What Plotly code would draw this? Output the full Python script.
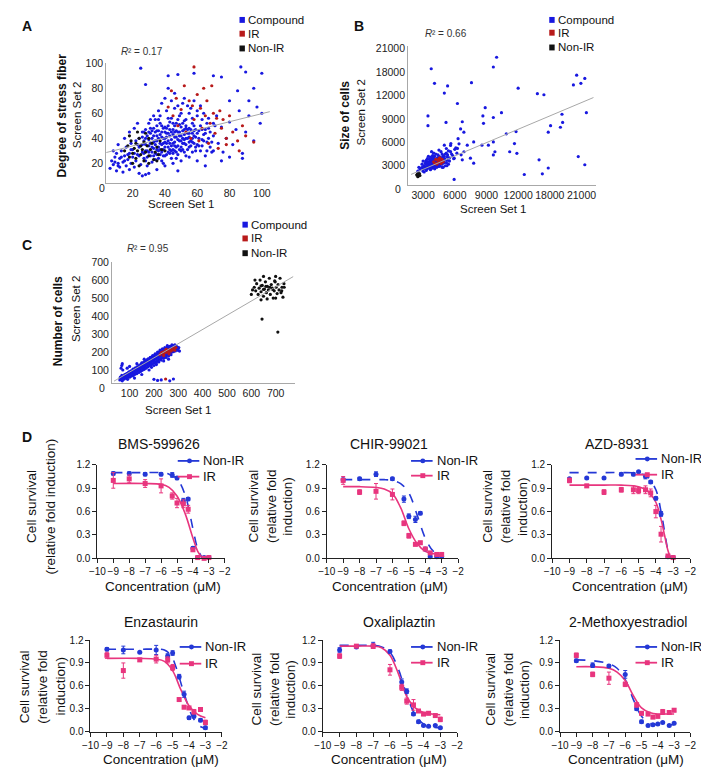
import plotly.graph_objects as go

W, H = 709, 767
def X(p): return p / W
def Y(p): return 1 - p / H

FONT = "Liberation Sans, Arial, sans-serif"

C_BLUE = "#1818e0"; C_RED = "#b81a1a"; C_BLACK = "#111111"
D_BLUE = "#2438d6"; D_PINK = "#e8357e"; GREY_LINE = "#a8a8a8"

# ---------------- Panel A: degree of stress fiber ----------------
A_COMPOUND = [(6,16),(7,22),(8,19),(9,25),(10,14),(10,28),(11,20),(12,17),(12,24),(13,30),(14,13),(14,21),(15,26),(16,18),(16,33),(17,23),(18,15),(18,28),(19,20),(19,36),(20,25),(20,31),(21,17),(22,22),(22,38),(23,27),(24,12),(24,33),(25,19),(26,29),
(26,41),(27,24),(28,35),(28,47),(29,18),(29,30),(30,39),(30,52),(31,26),(31,44),(32,21),(32,33),(33,48),(33,37),(34,28),(34,55),(35,42),(35,31),(36,24),(36,46),(37,36),(37,58),(38,29),(38,50),(39,40),(39,20),(40,33),(40,45),(41,27),(41,62),(42,38),(42,50),(43,31),(43,42),(44,24),(44,56),(45,36),(45,47),(46,30),(46,64),(47,41),(47,52),(48,34),(48,27),(49,45),(49,58),(50,38),(50,49),(51,31),(51,68),(52,43),(52,36),(53,55),(53,26),(54,40),(54,47),(55,33),(55,60),(56,38),(57,44),(57,29),(58,50),(58,36),(59,41),(60,35),(60,62),(61,46),(62,30),(63,39),(63,55),(64,43),(65,26),(66,37),(67,48),(68,33),(70,42),(72,58),(73,36),(75,49),(76,29),(78,40),(80,53),(82,35),(84,47),(86,62),(88,24),(90,45),(92,58),(95,38),(97,65),(99,52),
(33,26),(35,38),(37,43),(38,35),(40,40),(41,36),(42,44),(43,28),(44,39),(45,43),(46,37),(47,33),(48,45),(49,38),(50,42),(51,46),(52,39),(53,35),(54,44),(55,41),(56,47),(57,37),(58,42),(36,33),(39,48),(34,45),(32,40),(30,34),(28,30),(27,38),(25,34),(24,40),(31,55),(36,62),(38,68),(40,72),(42,80),(44,70),(46,76),(48,66),(50,60),(52,72),(54,66),(56,64),(58,70),(60,58),(62,66),(64,60),(66,52),
(25,96),(28,83),(42,90),(48,91),(58,92),(70,90),(75,89),(87,97),(90,93),(100,92),(85,78),(95,80),(80,70),(92,70),(100,60),
(26,10),(28,11),(35,15),(40,18),(45,20),(50,22),(55,25),(60,22),(65,18),(70,30),(75,22),(80,25),(88,28),(48,14),(30,12),
(8,30),(11,35),(15,40),(18,45),(21,48),(23,52),(39,31),(41,44),(43,36),(46,41),(49,31),(51,40),(53,48),(55,37),(57,52),(59,33),(61,40),(63,47),(65,44),(67,40),(69,37),(71,50),(37,27),(35,50),(33,58),(29,42),(27,45),(45,28),(47,24),(52,29),
(26,35),(27,28),(28,40),(29,25),(30,45),(31,36),(32,29),(33,42),(34,35),(35,27),(36,40),(37,31),(38,45),(39,36),(40,26),(41,48),(42,33),(43,47),(44,34),(45,52),(46,45),(47,29),(48,39),(49,51),(50,33),(51,52),(52,47),(53,40),(54,31),(55,48),(56,34),(57,56),(58,46),(59,30),(60,44),(61,34),(62,50),(63,34),(64,38),(65,47),(66,30),(67,56),(68,45),(69,29),(70,52),(31,48),(33,32),(35,46),(37,52),(39,26),(41,41),(43,53),(45,31),(47,46),(49,42),(51,36),(53,50),(55,44),(57,40),(59,47),(34,38),(36,30),(38,41),(40,49),(42,29),(44,45),(46,34),(48,55),(50,30),(52,54),(28,22),(30,29),(32,46),(34,23),(36,55),(38,22),(40,37),(42,56),(44,30),(46,50),(21,28),(23,35),(19,31),(17,27),(15,22),(13,25),(11,18),(9,21),(24,26),(26,45)]
A_IR = [(44,78),(47,72),(50,63),(52,82),(55,70),(57,66),(58,55),(60,75),(62,64),(63,48),(65,58),(66,70),(68,52),(70,60),(71,44),(72,56),(74,62),(75,48),(76,55),(78,40),(80,58),(82,45),(85,38),(88,50),(90,42),(95,37),(42,65),(45,58),(48,50),(53,45),(56,40),(61,38),(67,36),(73,32),(64,80),(69,82),(58,97),(78,35),(86,30)]
A_NONIR = [(15,30),(17,34),(18,25),(19,38),(20,28),(21,32),(22,36),(22,24),(23,30),(24,40),(25,27),(25,34),(26,31),(27,22),(27,37),(28,29),(29,34),(30,26),(30,40),(31,31),(32,36),(33,23),(34,29),(35,33),(36,27),(37,38),(38,31),(20,20),(24,18),(18,42),(30,20),(35,22),(28,44),(23,45),(40,30)]
A_FIT_X = [3.6, 105]
A_FIT_Y = [28.6, 61.3]
A_XTICKS = [20, 40, 60, 80, 100]
A_YTICKS = [20, 40, 60, 80, 100]

# ---------------- Panel B: size of cells (axis positions; labels 18000/21000 sit at 15000/18000) ----------------
B_COMPOUND = [(3770,15400),(4080,13540),(5320,13210),(5010,12290),(3460,8125),(3460,9375),(6250,10960),(7580,13625),(9650,15625),(9960,16875),(8880,10420),(8660,9375),(10420,9790),(9650,9170),(8720,8420),(5170,8540),(6710,8625),(6550,7700),(6860,7290),(6310,6460),(7790,6040),(8570,5625),(9180,5625),(9650,6040),(9800,4790),(9650,4375),(11200,4790),(10880,7080),(11800,7370),(11650,5830),(11880,4580),(12000,12920),(12580,1875),(13820,12210),(14440,12080),(13980,3750),(14290,1960),(14850,2710),(14850,7290),(15070,8125),(16000,7920),(16210,8540),(16150,9580),(17230,13330),(17540,14580),(17940,13540),(18310,14170),(18460,9790),(17690,4170),(18310,3125),(5940,1250),(4390,3960),(6870,4790),(7480,3960),(7790,3330),(5320,4375),(5630,5830),(5010,5625),(6250,5210),(5940,3960),(6710,3750),(7180,5625),
(3000,2600),(3100,3000),(3200,2800),(3300,3300),(3400,2900),(3500,3500),(3500,3100),(3600,2700),(3600,3800),(3700,3200),(3700,3600),(3800,2900),(3800,4000),(3900,3400),(3900,3100),(4000,3700),(4000,2800),(4100,3300),(4100,4200),(4200,3500),(4200,3000),(4300,3900),(4300,3200),(4400,3600),(4400,4400),(4500,3300),(4500,2900),(4600,3800),(4600,4100),(4700,3500),(4800,4500),(4800,3200),(4900,3900),(5000,4200),(5000,3400),(5200,4600),(5300,3700),(5500,4000),(5600,4800),(5800,4300),(3300,2400),(3700,2500),(4100,2600),(3900,4300),(3400,3900),(2900,3200),(3100,2200),(3600,3400),(4000,3400),(4200,3800),(4350,3450),(3850,3650),(3550,2950),(4450,3050),(4650,3250),(3250,3550),(2700,2500),(2600,2800),(2500,2300),(4900,2800),(5100,3000),(5400,3200),(3800,4800),(4700,4800),(5200,5200),(5600,5600),(6000,5100),(6200,4600),
(3000,3600),(3200,3300),(3400,2600),(3500,4200),(3600,3000),(3800,3300),(3900,2700),(4000,4000),(4100,3700),(4200,4500),(4300,2800),(4400,3100),(4500,4200),(4600,3000),(4700,3900),(4800,2800),(4900,4300),(5000,3700),(5100,4500),(5200,3400),(5300,4100),(5400,4900),(5500,3600),(5700,4500),(5900,3900),(6100,5300),(6400,5800),(6600,4400),(3300,3700),(3700,4100),(2800,2700),(3000,2300),(4500,5000),(4000,4600),(3900,3800),(4250,3650),(4150,2950),(3650,3250),(3450,3350),(4550,3450),(4750,3650),(4850,4100),(5050,3900),(5250,3000),(3350,3050),(3150,2650),(2950,2850),(3750,2800),(4050,3150),(4450,3850)]
B_IR = [(4000,3500),(4200,3800),(4400,3400),(4500,3900),(4600,3600),(4700,3300),(4800,3800),(4400,3700),(4300,3200),(4900,3500),(4100,3300),(4600,4000)]
B_NONIR = [(2400,1800),(2500,1950),(2550,1700),(2600,1850),(2650,2000),(2500,1600),(2700,1750),(2450,1900)]
B_FIT_X = [1860, 19130]
B_FIT_Y = [1890, 11720]
B_TICKPOS = [3000, 6000, 9000, 12000, 15000, 18000]
B_TICKTEXT = ["3000", "6000", "9000", "12000", "18000", "21000"]

# ---------------- Panel C: number of cells ----------------
C_COMPOUND = [(60,45),(62,60),(65,52),(68,70),(70,40),(72,58),(75,65),(78,50),(80,75),(82,62),(85,55),(88,80),(90,68),(92,48),(95,85),(98,72),(100,60),(102,90),(105,78),(108,66),(110,95),(112,82),(115,70),(118,100),(120,88),(122,76),(125,105),(128,92),(130,80),(132,112),(135,98),(138,86),(140,118),(142,105),(145,92),(148,125),(150,110),(152,98),(155,130),(158,116),(160,104),(162,138),(165,122),(168,110),(170,145),(172,130),(175,118),(178,150),(180,136),(182,124),(185,158),(188,142),(190,130),(192,165),(195,150),(198,138),(200,172),(202,158),(205,145),(208,178),(210,164),(212,152),(215,185),(218,170),(220,158),(222,192),(225,176),(228,164),(230,198),(232,182),(235,170),(238,205),(240,188),(242,176),(245,210),(248,194),(250,182),(252,215),(255,200),(258,188),(260,222),(262,205),(265,192),(268,228),(270,210),(272,198),(275,232),(278,215),(280,202),(282,236),(285,218),(288,206),(290,225),(295,212),(300,220),(305,205),
(65,110),(68,125),(70,135),(72,100),(200,48),(215,42),(230,45),(265,40),(280,50),(120,55),(150,75),(180,100),(210,130),(240,150),(260,160),(100,120),(130,135),(160,160),(90,110),
(150,140),(165,140),(175,160),(185,170),(195,180),(205,190),(215,200),(225,210),(235,218),(245,225),(255,235),(190,115),(200,125),(210,140),(220,145),(230,155),(240,165),(250,170),(260,178),(270,185),
(85,70),(95,62),(105,88),(115,92),(125,85),(135,110),(145,120),(155,108),(165,150),(175,135),(185,145),(195,160),(205,168),(215,175),(225,190),(235,195),(245,198),(255,212),(265,222),(275,205),
(70,55),(74,48),(78,62),(82,72),(86,64),(90,80),(94,70),(98,90),(102,72),(106,95),(110,80),(114,105),(118,88),(122,110),(126,96),(130,118),(134,104),(138,125),(142,112),(146,132),(150,120),(154,140),(158,126),(162,148),(166,132),(170,155),(174,140),(178,162),(182,148),(186,168),(190,155),(194,175),(198,162),(202,182),(206,168),(210,188),(214,175),(218,195),(222,182),(226,200),(230,188),(234,208),(238,195),(242,215),(246,202),(250,220),(254,208),(258,228),(262,215),(266,232),(270,220),(274,240),(278,225),(282,230),(286,240),(290,215),(294,230),(298,210),(302,225)]
C_IR = [(225,185),(230,195),(235,200),(240,190),(245,205),(250,198),(255,210),(260,200),(265,215),(270,205),(275,212),(280,220),(285,210),(290,225),(248,50),(240,180),(250,215),(262,190)]
C_NONIR = [(612,560),(618,540),(622,580),(628,520),(632,555),(636,600),(640,535),(645,570),(650,510),(654,550),(658,590),(662,530),(666,565),(670,545),(674,610),(678,520),(682,575),(686,555),(690,500),(694,540),(698,590),(702,560),(706,525),(710,575),(714,545),(718,610),(722,530),(726,560),(730,505),(734,580),(640,490),(665,495),(700,500),(605,545),(600,520),(615,600),(650,620),(700,620),(725,540),(735,560),(644,383),(709,311),(660,565),(676,560),(688,548),(650,548),(640,568),(696,595)]
C_FIT_X = [36, 772]
C_FIT_Y = [38, 619]
C_TICKS = [100, 200, 300, 400, 500, 600, 700]

R2_TEXT = ["0.17", "0.66", "0.95"]

# ---------------- Panel D: dose-response ----------------
DOSE = [-9, -8, -7, -6, -5.3, -5, -4.6, -4.3, -4, -3.7, -3.3, -3]
D_XTICKS = [-10, -9, -8, -7, -6, -5, -4, -3, -2]
D_YTICKS = [0.0, 0.3, 0.6, 0.9, 1.2]

BMS_NON = [1.09,1.09,1.08,1.08,1.07,1.03,0.74,0.76,0.13,0.01,0.01,0.01]
BMS_NON_ERR = [0.02,0.02,0.02,0.02,0.03,0.02,0.03,0.02,0.02,0.01,0.01,0.01]
BMS_IR = [1.00,1.02,0.96,0.93,0.80,0.71,0.70,0.63,0.11,0.01,0.00,0.01]
BMS_IR_ERR = [0.10,0.05,0.05,0.09,0.04,0.06,0.05,0.05,0.02,0.01,0.01,0.01]
BMS_FIT_X = [-9,-7,-6,-5.5,-5,-4.5,-4,-3.7,-3.4]
BMS_FIT_NON = [1.10,1.10,1.10,1.08,1.02,0.82,0.38,0.12,0.0]
BMS_FIT_IR = [0.96,0.96,0.95,0.91,0.80,0.58,0.26,0.09,0.0]

CHIR_NON = [1.01,1.02,1.08,1.02,0.76,0.54,0.50,0.58,0.12,0.02,0.02,0.02]
CHIR_NON_ERR = [0.02,0.02,0.03,0.02,0.04,0.03,0.04,0.02,0.02,0.01,0.01,0.01]
CHIR_IR = [1.00,0.85,0.86,0.82,0.45,0.29,0.18,0.20,0.12,0.07,0.05,0.05]
CHIR_IR_ERR = [0.05,0.03,0.10,0.07,0.03,0.03,0.02,0.02,0.02,0.01,0.01,0.02]
CHIR_FIT_X = [-9,-8,-7,-6.5,-6,-5.5,-5,-4.5,-4,-3.5,-3]
CHIR_FIT_NON = [1.01,1.01,1.01,1.01,1.00,0.96,0.84,0.56,0.26,0.09,0.04]
CHIR_FIT_IR = [0.92,0.92,0.91,0.89,0.83,0.65,0.38,0.19,0.09,0.06,0.05]

AZD_NON = [1.02,1.03,1.03,1.08,1.08,1.11,1.05,0.98,0.77,0.57,0.02,0.01]
AZD_NON_ERR = [0.01,0.01,0.01,0.02,0.02,0.01,0.03,0.02,0.02,0.03,0.01,0.01]
AZD_IR = [1.00,0.93,0.85,0.88,0.88,0.87,0.88,0.84,0.60,0.31,0.03,0.01]
AZD_IR_ERR = [0.03,0.02,0.03,0.03,0.05,0.04,0.05,0.05,0.08,0.10,0.02,0.01]
AZD_FIT_X = [-9,-7,-6,-5,-4.5,-4,-3.7,-3.5,-3.3,-3.15]
AZD_FIT_NON = [1.10,1.10,1.10,1.09,1.05,0.88,0.60,0.35,0.10,0.0]
AZD_FIT_IR = [0.94,0.94,0.94,0.92,0.87,0.72,0.50,0.30,0.10,0.0]

ENZ_NON = [1.08,1.07,1.04,1.07,0.99,1.03,0.72,0.49,0.18,0.20,0.15,0.05]
ENZ_NON_ERR = [0.02,0.05,0.01,0.06,0.03,0.03,0.03,0.04,0.02,0.02,0.02,0.02]
ENZ_IR = [1.00,0.80,0.94,0.95,0.94,0.84,0.42,0.32,0.31,0.26,0.29,0.12]
ENZ_IR_ERR = [0.04,0.10,0.02,0.05,0.04,0.04,0.02,0.02,0.02,0.03,0.02,0.03]
ENZ_FIT_X_NON = [-9,-7,-6,-5.5,-5.1,-4.8,-4.3,-3.8,-3.4,-3]
ENZ_FIT_NON = [1.08,1.08,1.08,1.07,1.00,0.85,0.50,0.20,0.08,0.04]
ENZ_FIT_X_IR = [-9,-7,-6,-5.5,-5,-4.5,-4,-3.5,-3]
ENZ_FIT_IR = [0.96,0.96,0.95,0.92,0.80,0.55,0.34,0.23,0.18]

OXA_NON = [1.07,1.11,1.13,1.05,0.65,0.53,0.23,0.13,0.08,0.07,0.08,0.05]
OXA_NON_ERR = [0.03,0.01,0.04,0.02,0.04,0.03,0.02,0.02,0.01,0.01,0.01,0.01]
OXA_IR = [0.99,1.12,1.12,0.81,0.58,0.40,0.35,0.27,0.23,0.24,0.21,0.16]
OXA_IR_ERR = [0.03,0.01,0.03,0.07,0.04,0.04,0.07,0.02,0.02,0.02,0.02,0.03]
OXA_FIT_X = [-9,-8,-7,-6.5,-6,-5.5,-5,-4.5,-4,-3.5,-3]
OXA_FIT_NON = [1.13,1.13,1.13,1.11,1.04,0.82,0.48,0.22,0.10,0.06,0.05]
OXA_FIT_IR = [1.12,1.12,1.12,1.10,1.00,0.76,0.46,0.31,0.25,0.23,0.22]

MET_NON = [0.93,0.87,0.86,0.75,0.30,0.13,0.08,0.09,0.10,0.12,0.08,0.11]
MET_NON_ERR = [0.02,0.03,0.02,0.05,0.02,0.02,0.01,0.01,0.01,0.01,0.01,0.01]
MET_IR = [1.00,0.75,0.70,0.62,0.35,0.24,0.23,0.19,0.20,0.26,0.25,0.28]
MET_IR_ERR = [0.03,0.03,0.08,0.03,0.03,0.02,0.02,0.02,0.02,0.03,0.02,0.02]
MET_FIT_X = [-9,-8,-7,-6.5,-6,-5.5,-5,-4.5,-4,-3.5,-3]
MET_FIT_NON = [0.94,0.93,0.89,0.83,0.68,0.42,0.20,0.11,0.09,0.09,0.09]
MET_FIT_IR = [0.85,0.85,0.83,0.78,0.67,0.47,0.31,0.25,0.23,0.23,0.23]

DRUGS = ["BMS-599626", "CHIR-99021", "AZD-8931", "Enzastaurin", "Oxaliplaztin", "2-Methoxyestradiol"]
YTITLE_2 = ["Cell survival", "(relative fold induction)"]
YTITLE_3 = ["Cell survival", "(relative fold", "induction)"]

fig = go.Figure()
layout = dict(width=W, height=H, margin=dict(l=0, r=0, t=0, b=0),
              paper_bgcolor="white", plot_bgcolor="white", showlegend=False,
              font=dict(family=FONT, size=11, color="#111"))
annotations, shapes = [], []

def ax_keys(i):
    return ("xaxis" if i == 1 else f"xaxis{i}", "yaxis" if i == 1 else f"yaxis{i}",
            "x" if i == 1 else f"x{i}", "y" if i == 1 else f"y{i}")

def ann(text, px, py, size=12, bold=False, angle=0, xanchor="center", yanchor="middle", color="#111", style="normal"):
    annotations.append(dict(text=text, x=X(px), y=Y(py), xref="paper", yref="paper", showarrow=False,
                            xanchor=xanchor, yanchor=yanchor, textangle=angle,
                            font=dict(size=size, family=FONT, color=color, style=style,
                                      weight="bold" if bold else "normal")))

# ---- scatter panels ----
scatter_specs = [
    (1, (92, 259), (50, 172), [3.6, 105], [4, 100], A_COMPOUND, A_IR, A_NONIR, A_FIT_X, A_FIT_Y,
     dict(tickvals=A_XTICKS), dict(tickvals=A_YTICKS)),
    (2, (400, 592), (33, 174), [1580, 19400], [500, 18250], B_COMPOUND, B_IR, B_NONIR, B_FIT_X, B_FIT_Y,
     dict(tickvals=B_TICKPOS, ticktext=B_TICKTEXT), dict(tickvals=B_TICKPOS, ticktext=B_TICKTEXT)),
    (3, (98, 285), (252, 375), [28, 781], [27, 700], C_COMPOUND, C_IR, C_NONIR, C_FIT_X, C_FIT_Y,
     dict(tickvals=C_TICKS), dict(tickvals=C_TICKS)),
]
for i, xd, yd, xr, yr, comp, ir, non, fx, fy, xt, yt in scatter_specs:
    xk, yk, xa, ya = ax_keys(i)
    common = dict(showline=True, linecolor=GREY_LINE, linewidth=1, showgrid=False, zeroline=False,
                  ticks="", tickangle=0, tickfont=dict(size=10.5, family=FONT, color="#222"))
    layout[xk] = dict(domain=[X(xd[0]), X(xd[1])], range=xr, anchor=ya, **common, **xt)
    layout[yk] = dict(domain=[Y(yd[1]), Y(yd[0])], range=yr, anchor=xa, **common, **yt)
    for pts, col in ((comp, C_BLUE), (non, C_BLACK), (ir, C_RED)):
        fig.add_trace(go.Scatter(x=[p[0] for p in pts], y=[p[1] for p in pts], mode="markers",
                                 marker=dict(size=3.2, color=col, line=dict(width=0)),
                                 xaxis=xa, yaxis=ya, hoverinfo="skip"))
    fig.add_trace(go.Scatter(x=fx, y=fy, mode="lines", line=dict(color=GREY_LINE, width=1),
                             xaxis=xa, yaxis=ya, hoverinfo="skip"))

# scatter panel texts
ann("A", 4, 12, size=14, bold=True, xanchor="left")
ann("B", 343, 12, size=14, bold=True, xanchor="left")
ann("C", 4, 235, size=14, bold=True, xanchor="left")
ann("D", 4, 430, size=14, bold=True, xanchor="left")
for (rx, ry), val in zip(((105, 38), (415, 20), (111, 238)), R2_TEXT):
    ann("R", rx, ry, size=10, xanchor="left", color="#333", style="italic")
    ann("² = " + val, rx + 7, ry, size=10, xanchor="left", color="#333")
ann("0", 88, 177, size=10.5, color="#222")
ann("0", 390, 178, size=10.5, color="#222")
ann("0", 88, 380, size=10.5, color="#222")
ann("Degree of stress fiber", 47, 103, size=12, bold=True, angle=-90)
ann("Screen Set 2", 63, 103, size=11.5, angle=-90)
ann("Screen Set 1", 168, 193, size=11.5)
ann("Size of cells", 336, 103, size=12, bold=True, angle=-90)
ann("Screen Set 2", 352, 100, size=11.5, angle=-90)
ann("Screen Set 1", 487, 198, size=11.5)
ann("Number of cells", 43, 312, size=12, bold=True, angle=-90)
ann("Screen Set 2", 62, 300, size=11.5, angle=-90)
ann("Screen Set 1", 165, 402, size=11.5)

# scatter legends (swatch squares + labels)
LEG_LABELS = ["Compound", "IR", "Non-IR"]
LEG_COLORS = [C_BLUE, C_RED, C_BLACK]
for sx, rows in ((228, (6, 20, 35)), (544, (6, 19, 34)), (231, (214, 228, 243))):
    for lab, col, ry in zip(LEG_LABELS, LEG_COLORS, rows):
        shapes.append(dict(type="rect", xref="paper", yref="paper", x0=X(sx), x1=X(sx + 5.5),
                           y0=Y(ry + 3), y1=Y(ry - 3), fillcolor=col, line=dict(width=0)))
        ann(lab, sx + 7, ry, size=11.5, xanchor="left")

# ---- dose-response panels ----
d_panels = [
    (BMS_NON, BMS_NON_ERR, BMS_IR, BMS_IR_ERR, BMS_FIT_X, BMS_FIT_NON, BMS_FIT_X, BMS_FIT_IR),
    (CHIR_NON, CHIR_NON_ERR, CHIR_IR, CHIR_IR_ERR, CHIR_FIT_X, CHIR_FIT_NON, CHIR_FIT_X, CHIR_FIT_IR),
    (AZD_NON, AZD_NON_ERR, AZD_IR, AZD_IR_ERR, AZD_FIT_X, AZD_FIT_NON, AZD_FIT_X, AZD_FIT_IR),
    (ENZ_NON, ENZ_NON_ERR, ENZ_IR, ENZ_IR_ERR, ENZ_FIT_X_NON, ENZ_FIT_NON, ENZ_FIT_X_IR, ENZ_FIT_IR),
    (OXA_NON, OXA_NON_ERR, OXA_IR, OXA_IR_ERR, OXA_FIT_X, OXA_FIT_NON, OXA_FIT_X, OXA_FIT_IR),
    (MET_NON, MET_NON_ERR, MET_IR, MET_IR_ERR, MET_FIT_X, MET_FIT_NON, MET_FIT_X, MET_FIT_IR),
]
d_xdom = [(83, 213), (317, 451), (547, 688), (76, 210), (313, 450), (555, 688)]
d_ydom = [(458, 553)] * 3 + [(636, 729)] * 3
d_title_pos = [(146, 437), (381, 437), (613, 437), (148, 618), (391, 618), (624, 618)]
d_xtitle_pos = [(150, 582), (382, 582), (626, 582), (148, 757), (381, 757), (622, 757)]
d_ytitle = [((15, 35), 500, YTITLE_2),
            ((242, 260, 277), 500, YTITLE_3),
            ((481, 499, 516), 500, YTITLE_3),
            ((8, 27, 45), 683, YTITLE_3),
            ((245, 263, 280), 686, YTITLE_3),
            ((484, 502, 519), 686, YTITLE_3)]
d_leg = [(165, 454, 470), (403, 454, 469), (632, 452, 468), (167, 643, 660), (403, 643, 659), (632, 643, 659)]
DSIZE = 13.5

for k, (non, non_e, ir, ir_e, fxn, fyn, fxi, fyi) in enumerate(d_panels):
    i = 4 + k
    xk, yk, xa, ya = ax_keys(i)
    xd, yd = d_xdom[k], d_ydom[k]
    common = dict(showline=True, linecolor="#222", linewidth=1, showgrid=False, zeroline=False,
                  ticks="outside", ticklen=4, tickwidth=1, tickcolor="#222", tickangle=0,
                  tickfont=dict(size=10, family=FONT, color="#111"))
    layout[xk] = dict(domain=[X(xd[0]), X(xd[1])], range=[-10, -2], tickvals=D_XTICKS, anchor=ya, **common)
    layout[yk] = dict(domain=[Y(yd[1]), Y(yd[0])], range=[0, 1.2], tickvals=D_YTICKS, tickformat=".1f",
                      anchor=xa, **common)
    fig.add_trace(go.Scatter(x=fxn, y=fyn, mode="lines", line=dict(color=D_BLUE, width=1.6, dash="dash", shape="spline", smoothing=1.0),
                             xaxis=xa, yaxis=ya, hoverinfo="skip"))
    fig.add_trace(go.Scatter(x=fxi, y=fyi, mode="lines", line=dict(color=D_PINK, width=1.6, shape="spline", smoothing=1.0),
                             xaxis=xa, yaxis=ya, hoverinfo="skip"))
    fig.add_trace(go.Scatter(x=DOSE, y=non, mode="markers", marker=dict(symbol="circle", size=5, color=D_BLUE),
                             error_y=dict(type="data", array=non_e, color=D_BLUE, thickness=1, width=2),
                             xaxis=xa, yaxis=ya, cliponaxis=False, hoverinfo="skip"))
    fig.add_trace(go.Scatter(x=DOSE, y=ir, mode="markers", marker=dict(symbol="square", size=5, color=D_PINK),
                             error_y=dict(type="data", array=ir_e, color=D_PINK, thickness=1, width=2),
                             xaxis=xa, yaxis=ya, cliponaxis=False, hoverinfo="skip"))
    ann(DRUGS[k], *d_title_pos[k], size=DSIZE + 0.5)
    ann("Concentration (μM)", *d_xtitle_pos[k], size=DSIZE)
    xs, yc, lines = d_ytitle[k]
    for lx_, txt in zip(xs, lines):
        ann(txt, lx_, yc, size=DSIZE, angle=-90)
    lx, ly1, ly2 = d_leg[k]
    for lab, col, ly, sym in (("Non-IR", D_BLUE, ly1, "circle"), ("IR", D_PINK, ly2, "square")):
        shapes.append(dict(type="line", xref="paper", yref="paper", x0=X(lx), x1=X(lx + 22),
                           y0=Y(ly), y1=Y(ly), line=dict(color=col, width=1.8)))
        mx = lx + 12
        stype = "circle" if sym == "circle" else "rect"
        shapes.append(dict(type=stype, xref="paper", yref="paper", x0=X(mx - 2.5), x1=X(mx + 2.5),
                           y0=Y(ly + 2.5), y1=Y(ly - 2.5), fillcolor=col, line=dict(width=0)))
        ann(lab, lx + 24, ly, size=13, xanchor="left")

layout["annotations"] = annotations
layout["shapes"] = shapes
fig.update_layout(**layout)
fig.write_html("out.html")
